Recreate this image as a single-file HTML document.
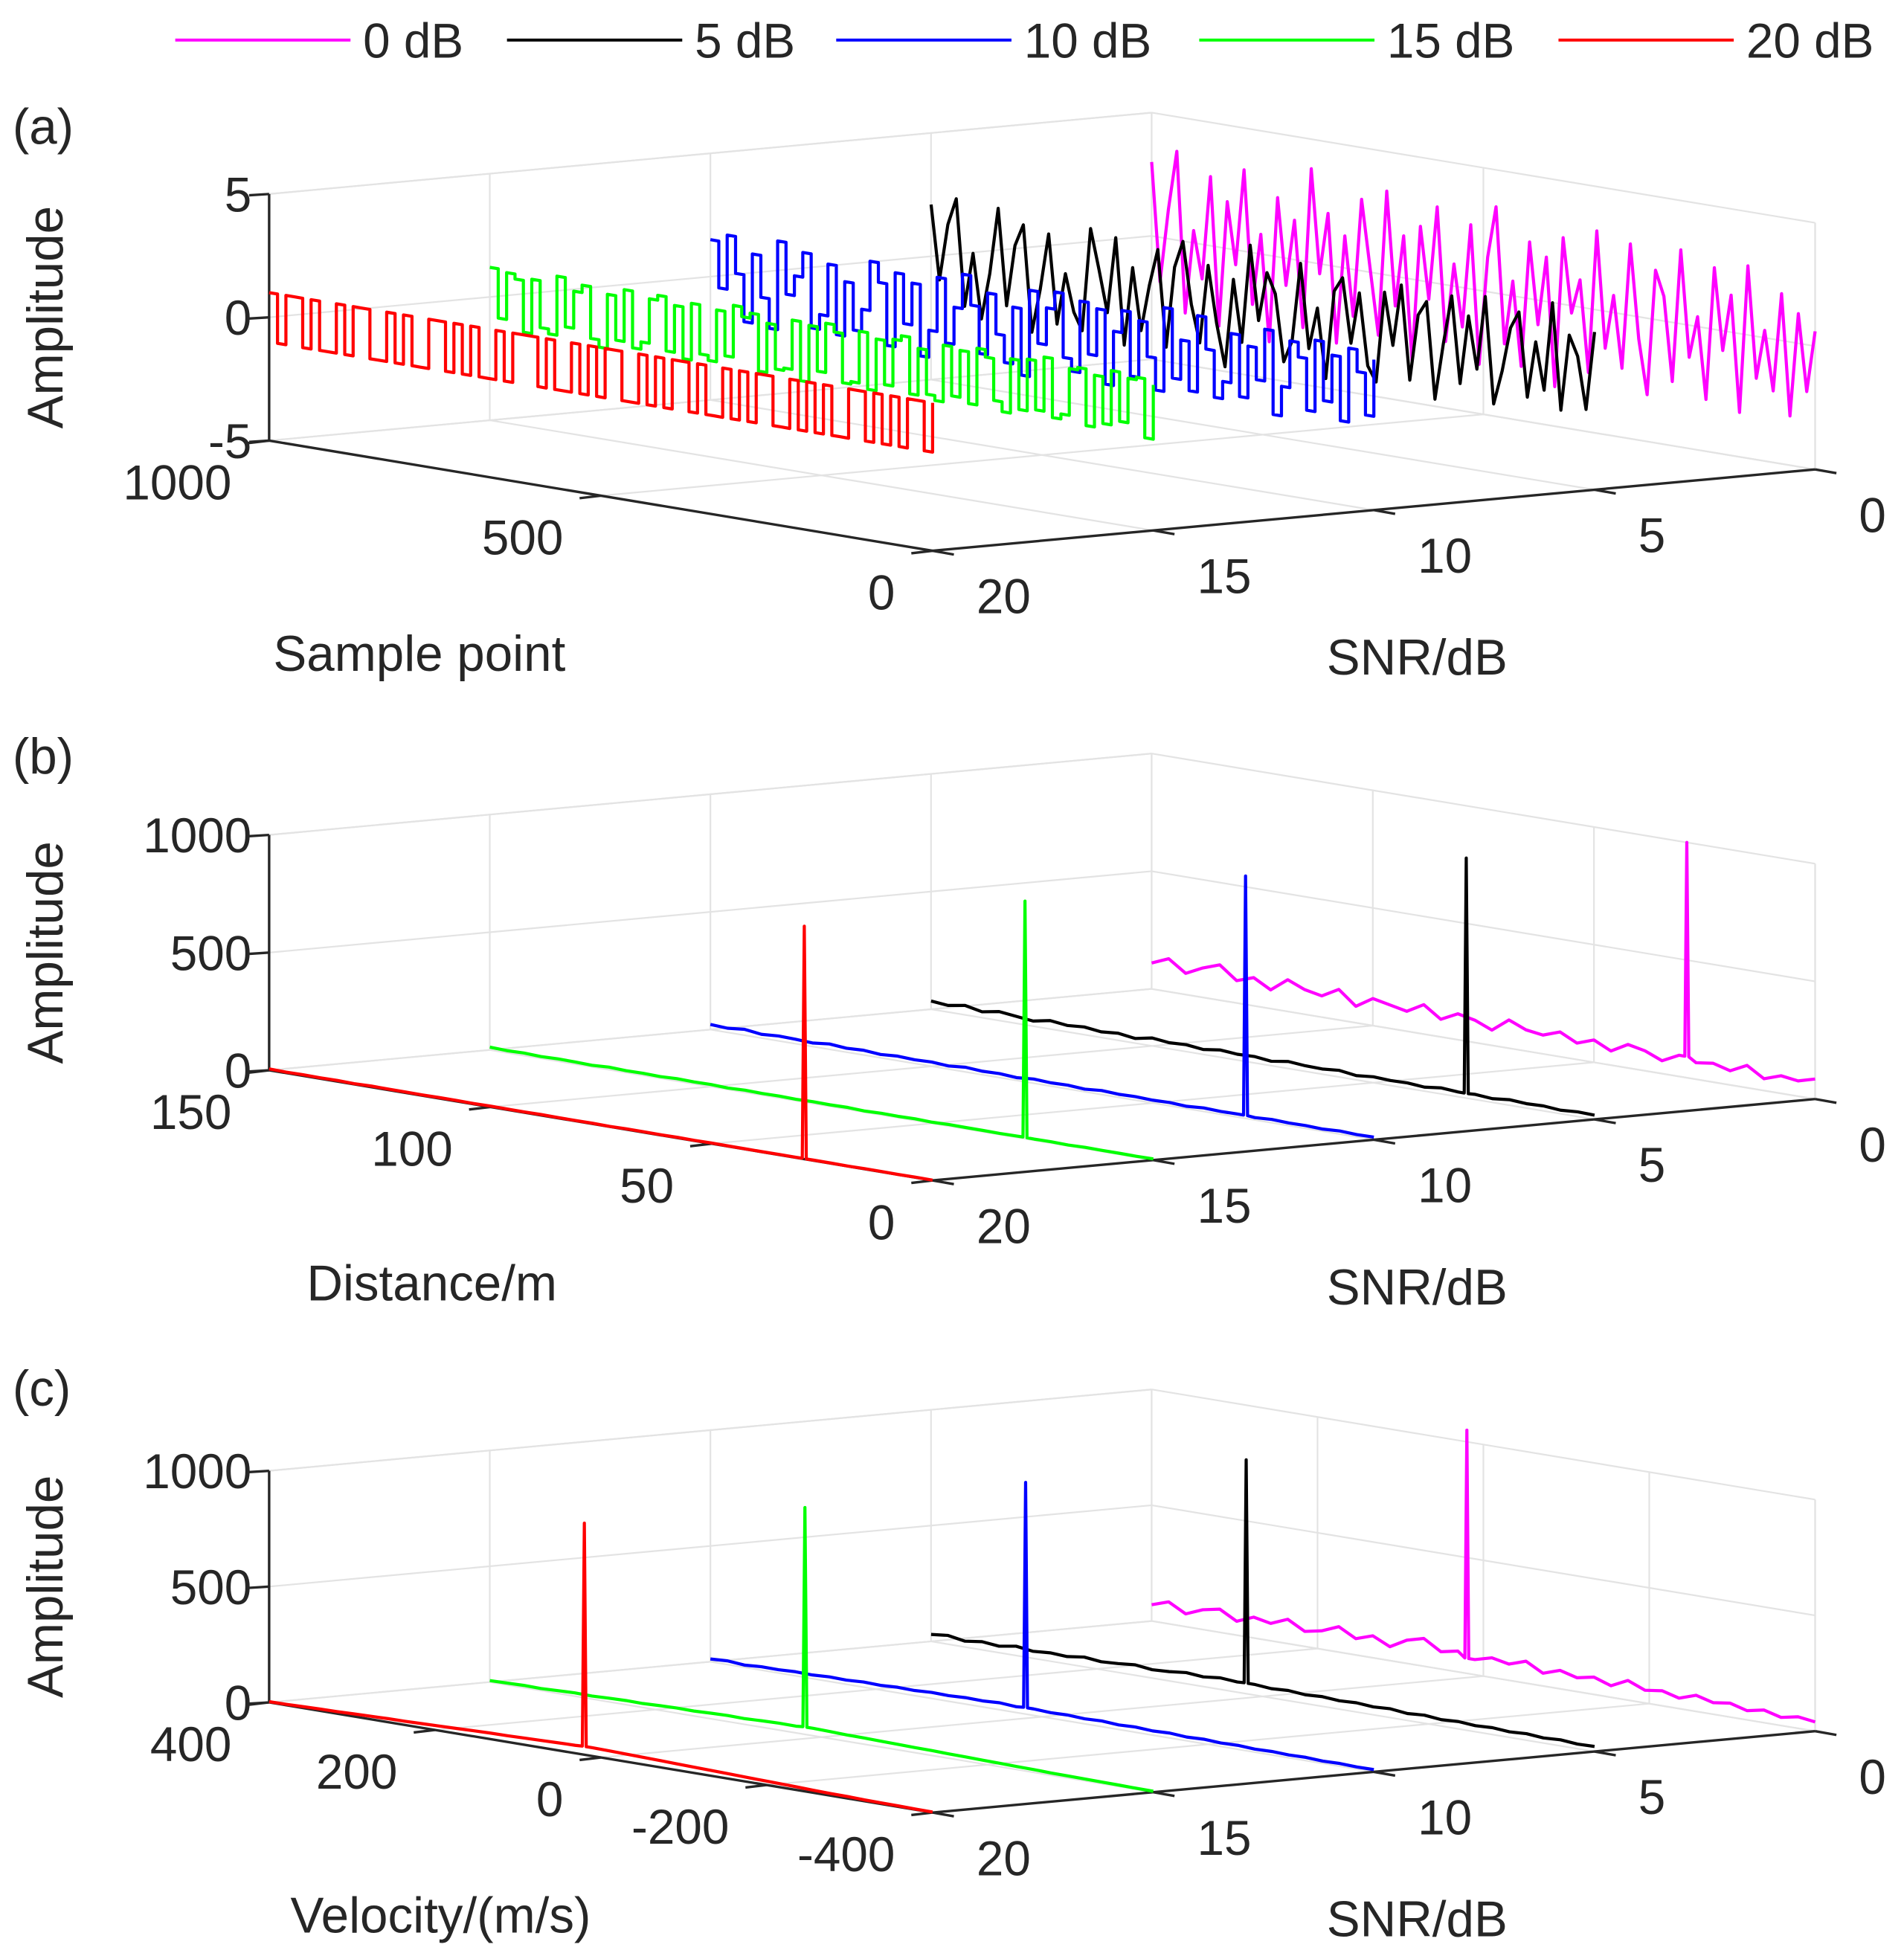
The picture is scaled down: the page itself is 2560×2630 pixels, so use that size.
<!DOCTYPE html>
<html><head><meta charset="utf-8"><style>
html,body{margin:0;padding:0;background:#fff}
svg{display:block}
text{font-family:"Liberation Sans",sans-serif;fill:#262626}
</style></head><body>
<svg id="fig" xmlns="http://www.w3.org/2000/svg" width="2560" height="2630" viewBox="0 0 1521 1562.6" preserveAspectRatio="none">
<g id="legend"></g>
<g id="plots"></g>
</svg>
<script>
const snrList=[0,5,10,15,20];
const seriesColors=["#ff00ff","#000000","#0000ff","#00ff00","#ff0000"];
const legendLabels=["0 dB","5 dB","10 dB","15 dB","20 dB"];
const snrTicks=[0,5,10,15,20];

// Panel (a): time-domain amplitude, ordered sample 1000 -> 0 (left to right)
const aRed=[1,-1,1,1,-1,1,-1,-1,1,-1,1,1,-1,-1,1,-1,1,-1,-1,1,1,-1,1,-1,1,-1,-1,1,-1,1,1,1,-1,1,-1,-1,1,-1,1,-1,1,1,-1,-1,1,-1,1,-1,1,1,-1,1,-1,-1,1,-1,1,-1,1,1,-1,-1,1,-1,1,-1,1,-1,-1,1,1,-1,1,-1,1,-1,1,1,-1,1];
const aGreen=[1.2,-0.8,1.1,0.9,-1.2,1.0,-0.9,-1.1,1.3,-0.7,0.8,1.1,-1.0,-1.3,0.9,-0.9,1.2,-1.1,-0.8,1.0,1.2,-1.0,0.9,-1.2,1.1,-0.9,-1.1,1.0,-0.8,1.3,0.9,1.1,-1.2,0.8,-1.0,-0.9,1.1,-1.3,1.0,-0.8,1.2,0.9,-1.1,-1.0,1.1,-1.2,0.9,-0.9,1.0,1.2,-1.1,0.8,-1.0,-1.2,1.1,-0.9,1.0,-1.1,1.2,0.9,-0.8,-1.2,1.0,-1.0,1.1,-0.9,1.3,-1.1,-0.9,1.0,1.1,-1.2,0.9,-1.0,1.2,-0.8,1.0,1.1,-1.3,0.9];
const aBlue=[1.5,-0.4,1.8,0.3,-1.6,1.2,-0.5,-1.7,1.9,-0.2,0.6,1.6,-1.4,-0.8,1.3,-1.5,0.7,-1.2,-0.3,1.7,0.9,-1.6,1.4,-0.6,1.1,-1.8,-0.7,1.5,-1.1,0.4,1.8,0.6,-1.3,1.2,-0.4,-1.5,0.8,-1.9,1.6,-0.5,1.0,1.7,-0.9,-1.4,1.5,-0.6,1.3,-1.7,0.5,1.4,-1.2,1.1,-0.3,-1.6,1.8,-1.0,0.6,-1.4,1.7,0.4,-1.5,-0.8,1.2,-1.3,0.8,-0.5,1.6,-1.8,-0.6,1.3,0.7,-1.4,1.5,-0.9,1.0,-1.6,1.4,0.5,-1.2,1.1];
const aBlack=[2.1,-0.9,1.4,2.5,-1.8,0.4,-2.2,-0.3,2.4,-1.5,1.0,1.9,-2.4,-0.6,1.7,-1.9,0.2,-1.3,-2.0,2.2,0.6,-1.1,2.0,-2.3,0.9,-1.6,0.3,1.8,-2.1,1.2,2.3,-0.2,-1.7,1.5,-0.8,-2.5,1.1,-1.4,2.6,-0.4,1.6,0.8,-1.9,-1.0,2.2,-1.2,0.5,-2.3,1.3,1.9,-0.7,1.4,-1.5,-2.1,1.6,-0.5,2.0,-1.8,0.9,1.5,-2.4,-0.1,1.9,-1.6,1.2,-0.9,2.1,-2.2,-0.8,1.0,1.7,-1.7,0.6,-1.3,2.3,-2.0,1.1,0.3,-1.8,1.4];
const aMagenta=[3.0,-1.8,1.2,3.6,-2.9,0.5,-1.4,2.8,-3.2,1.9,-0.6,3.3,-2.1,0.8,-3.5,2.4,-1.1,1.6,-2.7,3.8,-0.4,2.1,-3.1,1.3,-1.9,2.9,0.2,-2.5,3.4,-1.2,1.7,-3.3,2.2,-0.7,3.1,-2.3,0.9,-1.6,2.6,-3.0,1.4,3.5,-2.0,0.6,-2.8,2.3,-1.0,1.8,-3.4,2.7,-0.3,1.1,-2.6,3.2,-1.5,0.7,-2.2,2.9,-0.9,-3.1,2.0,1.0,-2.4,3.0,-1.3,0.4,-2.9,2.5,-0.8,1.5,-3.2,2.8,-1.7,0.3,-2.1,1.9,-3.0,1.2,-1.9,0.6];

// Panel (b)
const bMagenta=[110,140,90,125,150,95,120,80,135,105,90,130,70,115,100,85,125,75,110,95,65,120,90,80,105,70,95,60,100,85,55,90,70,80,60,95,50,75,65,85];
const bBlack=[35,28,40,25,38,30,22,36,27,33,24,30,20,34,26,29,21,31,25,27,19,30,24,22,28,18,25,21,23,17,26,20,22,16,24,19,21,15,20,18];
const bBlue=[22,18,25,16,21,19,15,23,17,20,14,19,16,18,13,20,15,17,12,18,14,16,11,17,13,15,12,14,10,15,12,13,10,14,11,12,9,13,10,11];
const bGreen=[12,9,11,8,10,9,7,11,8,9,7,10,8,9,6,9,7,8,6,8,7,8,5,7,6,7,5,7,6,6,5,6,5,6,4,6,5,5,4,5];
const bRed=[6,4,5,4,5,3,5,4,4,3,4,4,3,4,3,3,4,3,3,3,2,3,3,2,3,2,3,2,2,2,2,2,2,2,1,2,2,1,2,1];
const bPeakPos=[29,29,29,29,29];
const bPeakVal=[1000,1020,1030,1010,990];

// Panel (c)
const cMagenta=[70,95,55,85,100,60,90,75,105,65,80,110,70,95,60,100,120,75,90,65,85,70,95,55,80,60,75,50,85,55,65,45,70,50,60,40,55,35,50,40];
const cBlack=[30,38,25,35,28,40,30,36,32,42,34,38,45,36,40,48,42,50,44,46,40,44,38,42,36,40,34,38,30,35,28,32,26,30,24,28,22,26,20,22];
const cBlue=[12,16,10,15,14,18,16,20,18,22,20,24,22,26,24,28,26,30,25,28,24,26,22,25,20,23,18,21,16,19,15,17,13,15,12,14,10,12,9,10];
const cGreen=[6,8,10,9,12,14,13,16,18,17,20,22,21,24,26,25,28,30,29,32,30,28,27,25,24,22,21,19,18,16,15,13,12,10,9,8,7,6,5,4];
const cRed=[3,4,6,8,9,11,13,15,16,18,20,22,24,26,27,29,31,33,34,36,35,33,31,29,27,25,23,21,19,17,15,13,11,9,8,6,5,4,3,2];
const cPeakPos=[20,20,20,20,20];
const cPeakVal=[1050,1010,1000,980,1000];

const NS="http://www.w3.org/2000/svg";
const svg=document.getElementById('fig');
function el(tag,attrs,parent,txt){const e=document.createElementNS(NS,tag);for(const k in attrs)e.setAttribute(k,attrs[k]);if(txt!==undefined)e.textContent=txt;(parent||svg).appendChild(e);return e;}

const lg=document.getElementById('legend');
const legX=[140,405,668,958,1245];
for(let i=0;i<5;i++){
  const g=el('g',{},lg);
  
  
  el('line',{x1:legX[i],y1:32,x2:legX[i]+140,y2:32,stroke:seriesColors[i],'stroke-width':2.4},g);
  el('text',{x:legX[i]+150,y:46,'font-size':39},g,legendLabels[i]);
}

const panels=[
 {id:'a',label:'(a)',fy:352,zmin:-5,zmax:5,zpx:197,zTicks:[-5,0,5],zTickLabels:['-5','0','5'],
  xmin:0,xmax:1000,xTicks:[1000,500,0],xTickLabels:['1000','500','0'],xTitle:'Sample point',xTitleX:335,
  series:[aMagenta,aBlack,aBlue,aGreen,aRed],step:[false,false,true,true,true]},
 {id:'b',label:'(b)',fy:855,zmin:0,zmax:1000,zpx:188,zTicks:[0,500,1000],zTickLabels:['0','500','1000'],
  xmin:0,xmax:150,xTicks:[150,100,50,0],xTickLabels:['150','100','50','0'],xTitle:'Distance/m',xTitleX:345,
  series:[bMagenta,bBlack,bBlue,bGreen,bRed],peakPos:bPeakPos,peakVal:bPeakVal},
 {id:'c',label:'(c)',fy:1360,zmin:0,zmax:1000,zpx:185,zTicks:[0,500,1000],zTickLabels:['0','500','1000'],
  xmin:-400,xmax:400,xTicks:[400,200,0,-200,-400],xTickLabels:['400','200','0','-200','-400'],xTitle:'Velocity/(m/s)',xTitleX:352,
  series:[cMagenta,cBlack,cBlue,cGreen,cRed],peakPos:cPeakPos,peakVal:cPeakVal}
];

panels.forEach(p=>{
  const g=el('g',{},document.getElementById('plots'));
  
  
  const uOf=v=>(p.xmax-v)/(p.xmax-p.xmin);
  const P=(u,snr,z)=>{const w=(20-snr)/20;return [215+530*u+705*w, p.fy+88*u-65*w-(z-p.zmin)*p.zpx/(p.zmax-p.zmin)];};
  const grid=el('g',{stroke:'#e3e3e3','stroke-width':1.3,fill:'none'},g);
  
  
  const ln=(a,b,par,attrs)=>el('line',Object.assign({x1:a[0],y1:a[1],x2:b[0],y2:b[1]},attrs||{}),par);
  snrTicks.forEach(s=>ln(P(0,s,p.zmin),P(0,s,p.zmax),grid));
  p.zTicks.forEach(z=>ln(P(0,20,z),P(0,0,z),grid));
  ln(P(0,20,p.zmax),P(0,0,p.zmax),grid);
  p.xTicks.forEach(t=>ln(P(uOf(t),0,p.zmin),P(uOf(t),0,p.zmax),grid));
  p.zTicks.forEach(z=>ln(P(0,0,z),P(1,0,z),grid));
  ln(P(1,0,p.zmin),P(1,0,p.zmax),grid);
  p.xTicks.forEach(t=>ln(P(uOf(t),20,p.zmin),P(uOf(t),0,p.zmin),grid));
  snrTicks.forEach(s=>ln(P(0,s,p.zmin),P(1,s,p.zmin),grid));
  const ax=el('g',{stroke:'#262626','stroke-width':2,fill:'none'},g);
  
  
  ln(P(0,20,p.zmin),P(0,20,p.zmax),ax);
  ln(P(0,20,p.zmin),P(1,20,p.zmin),ax);
  ln(P(1,20,p.zmin),P(1,0,p.zmin),ax);
  p.zTicks.forEach((z,i)=>{const a=P(0,20,z);ln(a,[a[0]-16,a[1]+1],ax);
    const t=el('text',{x:a[0]-14,y:a[1]+14,'font-size':39,'text-anchor':'end'},g,p.zTickLabels[i]);
    });
  p.xTicks.forEach((v,i)=>{const a=P(uOf(v),20,p.zmin);ln(a,[a[0]-17,a[1]+2],ax);
    const t=el('text',{x:a[0]-30,y:a[1]+47,'font-size':39,'text-anchor':'end'},g,p.xTickLabels[i]);
    });
  snrTicks.forEach(s=>{const a=P(1,s,p.zmin);ln(a,[a[0]+17,a[1]+3],ax);
    const t=el('text',{x:a[0]+35,y:a[1]+50,'font-size':39},g,String(s));
    });
  const yl=el('text',{x:0,y:0,'font-size':40,'text-anchor':'middle',transform:`translate(50,${P(0,20,(p.zmin+p.zmax)/2)[1]}) rotate(-90)`},g,'Amplitude');
  
  const xl=el('text',{x:p.xTitleX,y:p.fy+184,'font-size':40,'text-anchor':'middle'},g,p.xTitle);
  
  const sl=el('text',{x:1132,y:p.fy+187,'font-size':40,'text-anchor':'middle'},g,'SNR/dB');
  
  const pl=el('text',{x:10,y:p.fy-237,'font-size':40},g,p.label);
  
  p.series.forEach((vals,si)=>{
    const snr=snrList[si];const n=vals.length;let pts=[];
    for(let i=0;i<n;i++){
      const u=i/(n-1);
      if(p.step&&p.step[si]){const u2=Math.min(1,(i+1)/(n-1));pts.push([u,vals[i]]);if(i<n-1)pts.push([u2,vals[i]]);}
      else pts.push([u,vals[i]]);
    }
    if(p.peakPos){
      const up=uOf(p.peakPos[si]);const idx=Math.round(up*(n-1));const base=vals[Math.min(n-1,idx)];
      pts=pts.filter(q=>Math.abs(q[0]-up)>0.004);
      pts.push([up-0.003,base],[up,p.peakVal[si]],[up+0.003,base]);
      pts.sort((a,b)=>a[0]-b[0]);
    }
    const d=pts.map((q,k)=>{const xy=P(q[0],snr,q[1]);return (k?'L':'M')+xy[0].toFixed(1)+' '+xy[1].toFixed(1);}).join('');
    const path=el('path',{d:d,fill:'none',stroke:seriesColors[si],'stroke-width':2.5,'stroke-linejoin':'round'},g);
    
    
  });
});
</script>
</body></html>
